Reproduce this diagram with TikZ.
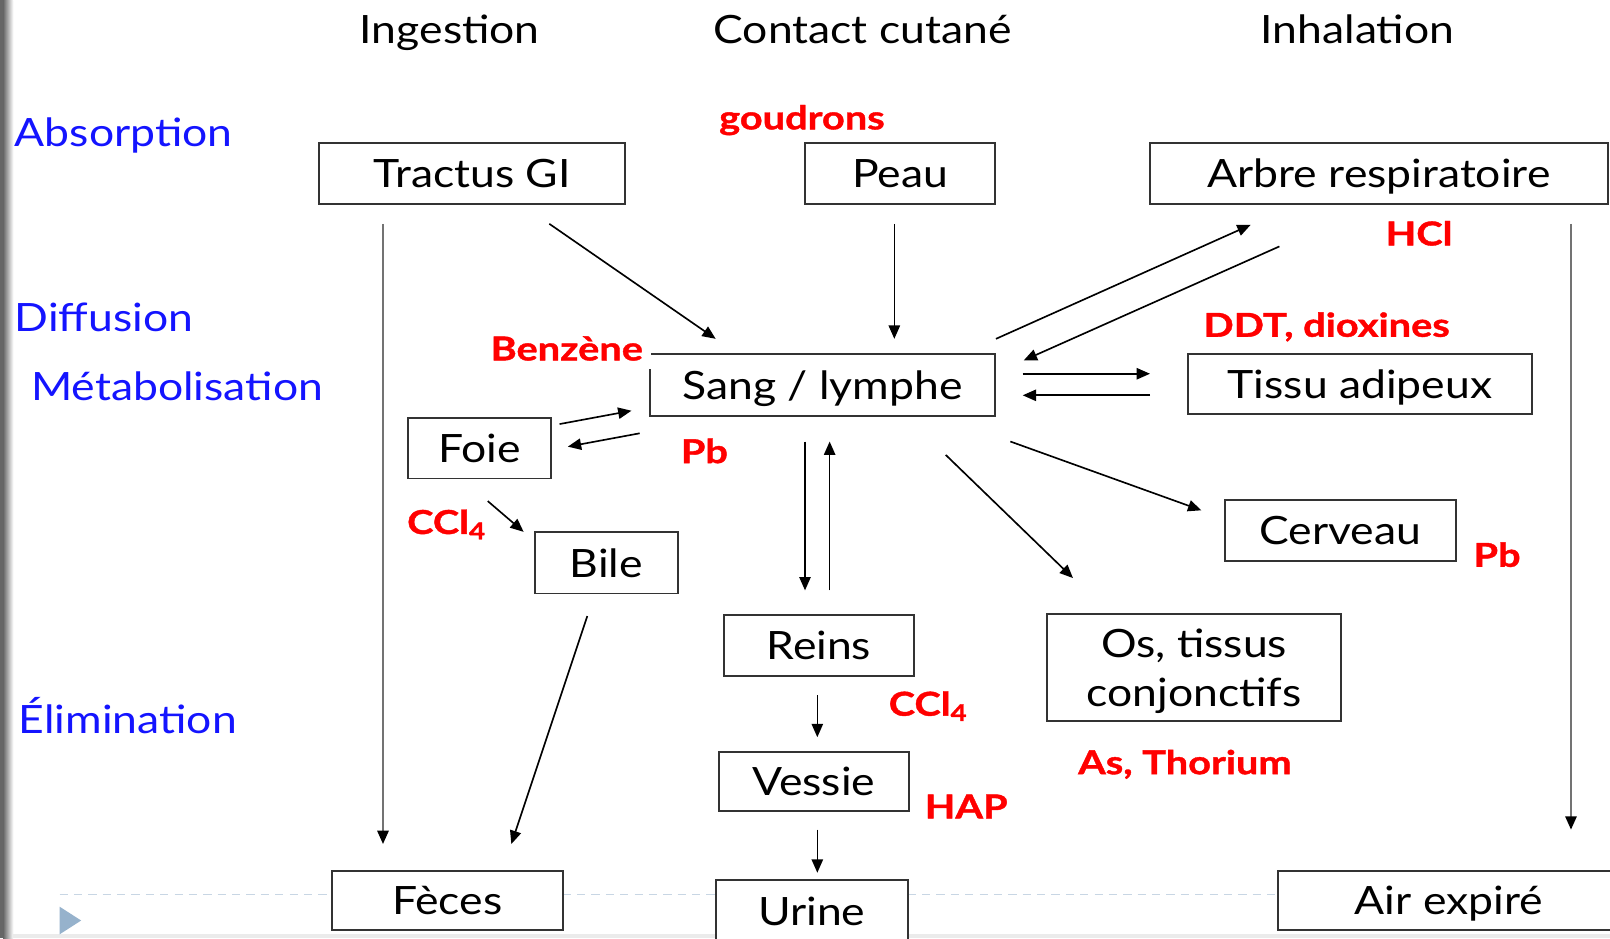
\documentclass[tikz,border=0pt]{standalone}
\usepackage{fontspec}
\setmainfont{Lato}[FakeStretch=1.14]
\newfontfamily\toxfont{Lato}[FakeStretch=1.21, BoldFeatures={FakeBold=1.2}]
\usetikzlibrary{arrows.meta}
\definecolor{phaseblue}{RGB}{20,20,255}
\definecolor{toxred}{RGB}{255,0,0}
\definecolor{dashcol}{RGB}{200,214,228}
\definecolor{tricol}{RGB}{150,178,204}
\begin{document}
\begin{tikzpicture}[x=0.5pt,y=-0.5pt,
  box/.style={draw=black!80, line width=0.9pt, inner sep=0pt, fill=white,
    font=\fontsize{19}{23}\selectfont, text height=14pt, text depth=0pt},
  bigbox/.style={draw=black!80, line width=0.9pt, inner sep=0pt, fill=white,
    font=\fontsize{19}{23}\selectfont, align=center, text depth=0pt},
  head/.style={font=\fontsize{19}{22}\selectfont, anchor=base, inner sep=0pt},
  phase/.style={font=\fontsize{19}{22}\selectfont, text=phaseblue, anchor=base west, inner sep=0pt},
  tox/.style={font=\fontsize{16}{19}\selectfont\toxfont\bfseries, text=toxred, anchor=base, inner sep=0pt},
  arr/.style={line width=0.8pt, -{Triangle[length=6.5pt,width=5.5pt]}},
  longarr/.style={draw=black!55, line width=1pt, -{Triangle[length=6.5pt,width=5.5pt,black]}},
]
\useasboundingbox (0,0) rectangle (1568,914);
\fill[white] (0,0) rectangle (1568,914);
\begin{scope}
\clip (0,0) rectangle (1568,914);
% left gray bar and bottom strip
\shade[left color=black!60, right color=white] (3,0) rectangle (13,914);
\fill[black!60] (0,0) rectangle (3,914);
\fill[black!8] (13,910) rectangle (1568,914);
% dashed line and marker
\draw[dashcol, line width=0.8pt, dash pattern=on 4pt off 3pt] (58,871) -- (1568,871);
\fill[tricol] (58,883) -- (79,896.5) -- (58,910) -- cycle;

% headings
\node[head] (hing) at (438,42) {Ingestion};
\node[head] (hcon) at (840,42) {Contact cutané};
\node[head] (hinh) at (1322,42) {Inhalation};

% phases
\node[phase] (pabs) at (14,143) {Absorption};
\node[phase] (pdif) at (14,323) {Diffusion};
\node[phase] (pmet) at (30,390) {Métabolisation};
\node[phase] (pelim) at (18,714) {Élimination};

% boxes
\node[box, minimum width=149pt, minimum height=30pt] (tract) at (460,169) {Tractus GI};
\node[box, minimum width=92.5pt, minimum height=30pt] (peau) at (876.5,169) {Peau};
\node[box, minimum width=223pt, minimum height=30pt] (arbre) at (1343,169) {Arbre respiratoire};
\node[box, minimum width=168pt, minimum height=30pt] (sang) at (801,375) {Sang / lymphe};
\node[box, minimum width=167.5pt, minimum height=29pt] (tissu) at (1324.5,374) {Tissu adipeux};
\node[box, minimum width=70pt, minimum height=29.5pt] (foie) at (467,436.5) {Foie};
\node[box, minimum width=69.5pt, minimum height=30pt] (bile) at (590.5,548) {Bile};
\node[box, minimum width=112.5pt, minimum height=29.5pt] (cerveau) at (1305.5,516.5) {Cerveau};
\node[box, minimum width=92.5pt, minimum height=29.5pt] (reins) at (797.5,628.5) {Reins};
\node[bigbox, minimum width=143pt, minimum height=52pt] (os) at (1163,650) {Os, tissus\\[1pt]conjonctifs};
\node[box, minimum width=92.5pt, minimum height=29pt] (vessie) at (792.5,761) {Vessie};
\node[box, minimum width=112.5pt, minimum height=29pt] (feces) at (435.5,877) {Fèces};
\node[box, minimum width=93.5pt, minimum height=30pt] (urine) at (790.5,887) {Urine};
\node[box, minimum width=166pt, minimum height=29pt] (air) at (1411,877) {Air expiré};

% toxic labels
\node[tox] (goud) at (781,126) {goudrons};
\node[tox] (hcl) at (1382,239) {HCl};
\node[tox] (ddt) at (1292,328) {DDT, dioxines};
\node[tox, fill=white, inner sep=4pt] (benz) at (552,351) {Benzène};
\node[tox] (pb1) at (686,451) {Pb};
\node[tox] (ccl1) at (435,520) {CCl\textsubscript{4}};
\node[tox] (pb2) at (1458,552) {Pb};
\node[tox] (ccl2) at (904,697) {CCl\textsubscript{4}};
\node[tox] (hap) at (941,797) {HAP};
\node[tox] (asth) at (1154,754) {As, Thorium};

% connector end points
\coordinate (tgA) at (373,218); \coordinate (fcA) at (373,822);
\coordinate (tgB) at (535,218); \coordinate (sgB) at (697,330);
\coordinate (peA) at (871,218); \coordinate (sgC) at (871,330);
\coordinate (sgD) at (970,330); \coordinate (arD) at (1218,219);
\coordinate (arE) at (1246,240); \coordinate (sgE) at (997,351);
\coordinate (sgF) at (996,364); \coordinate (tiF) at (1120,364);
\coordinate (tiG) at (1120,385); \coordinate (sgG) at (996,385);
\coordinate (foH) at (545,413); \coordinate (sgH) at (615,400);
\coordinate (sgI) at (623,422); \coordinate (foI) at (553,435);
\coordinate (foJ) at (475,488); \coordinate (biJ) at (510,518);
\coordinate (biK) at (572,600); \coordinate (fcK) at (498,822);
\coordinate (sgL) at (784,430); \coordinate (reL) at (784,575);
\coordinate (reM) at (808,575); \coordinate (sgM) at (808,430);
\coordinate (sgN) at (984,430); \coordinate (ceN) at (1170,497);
\coordinate (sgO) at (921,443); \coordinate (osO) at (1045,563);
\coordinate (reP) at (796,677); \coordinate (veP) at (796,718);
\coordinate (veQ) at (796,808); \coordinate (urQ) at (796,850);
\coordinate (arR) at (1530,218); \coordinate (aiR) at (1530,808);

% connectors
\draw[longarr] (tgA) -- (fcA);
\draw[arr] (tgB) -- (sgB);
\draw[arr] (peA) -- (sgC);
\draw[arr] (sgD) -- (arD);
\draw[arr] (arE) -- (sgE);
\draw[arr] (sgF) -- (tiF);
\draw[arr] (tiG) -- (sgG);
\draw[arr] (foH) -- (sgH);
\draw[arr] (sgI) -- (foI);
\draw[arr] (foJ) -- (biJ);
\draw[arr] (biK) -- (fcK);
\draw[arr] (sgL) -- (reL);
\draw[arr] (reM) -- (sgM);
\draw[arr] (sgN) -- (ceN);
\draw[arr] (sgO) -- (osO);
\draw[arr] (reP) -- (veP);
\draw[arr] (veQ) -- (urQ);
\draw[longarr] (arR) -- (aiR);
\end{scope}
\end{tikzpicture}
\end{document}
